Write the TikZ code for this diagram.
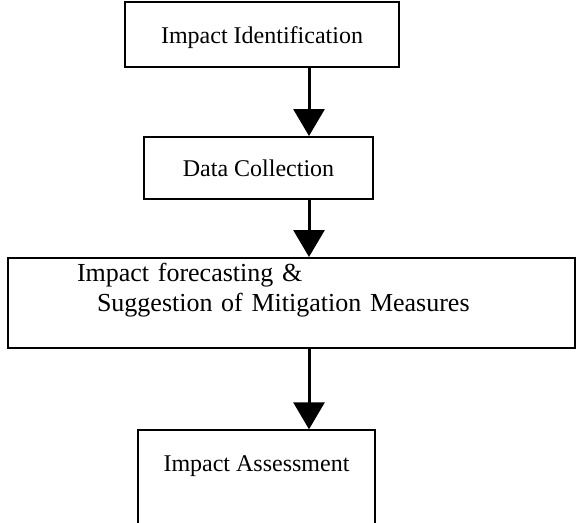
\documentclass[tikz,border=0pt]{standalone}
\usepackage{fontspec}
\setmainfont{Liberation Serif}
\usetikzlibrary{positioning,arrows.meta}

\begin{document}
\begin{tikzpicture}[x=1pt, y=1pt, >={Triangle[width=31pt,length=27pt]},
		stage/.style={draw=black, rectangle, line width=2pt, inner sep=0pt, minimum height=62pt, font=\fontsize{24}{30}\selectfont},
		flowLine/.style={line width=3pt, ->, color=black}
		]
		\useasboundingbox (0,0) rectangle (580,-522);
		\coordinate (spine) at (309,0);
		
		\node[stage, minimum width=274pt, minimum height=65pt, text height=22pt, text depth=5pt](ident) at (262,-34.5) {Impact Identification};
		\node[stage, minimum width=229pt](data) [below=68pt of ident, xshift=-3.5pt] {Data Collection};
		\node[stage, minimum width=567pt, minimum height=0pt, text width=429pt, inner xsep=69pt, inner ysep=5pt, text depth=62pt, align=left, font=\fontsize{26}{30}\selectfont](forecast) [below=57pt of data, xshift=33pt] {Impact forecasting \&\\\hspace*{20pt}Suggestion of Mitigation Measures};
		% bottom box runs off the page, so only its sides show
		\node[stage, minimum width=237pt, minimum height=0pt, inner ysep=10pt, text height=31pt, text depth=60pt](assess) [below=80pt of forecast, xshift=-35pt] {Impact Assessment};
		
		\draw [flowLine] (ident.south -| spine) -- (data.north -| spine);
		\draw [flowLine] (data.south -| spine) -- (forecast.north -| spine);
		\draw [flowLine] (forecast.south -| spine) -- (assess.north -| spine);
\end{tikzpicture}
\end{document}
